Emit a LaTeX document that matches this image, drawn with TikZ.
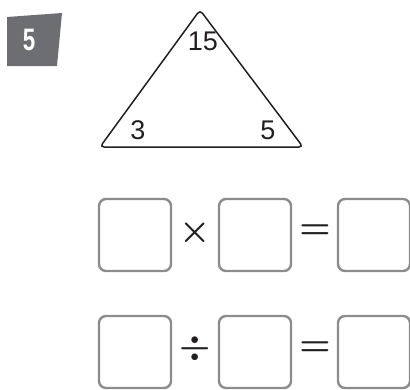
\documentclass[tikz,border=0pt]{standalone}
\usepackage{fontspec}
\setmainfont{Liberation Sans}
\newfontfamily\badgefont[FakeStretch=0.72]{Liberation Sans Bold}
\usepackage{xcolor}
\usetikzlibrary{positioning}
\definecolor{badgeGray}{HTML}{6D6E71}
\definecolor{boxGray}{HTML}{8C8C8C}
\definecolor{inkDark}{HTML}{231F20}
\newcommand{\bigop}[1]{\scalebox{3.5}{\boldmath$#1$}}

\begin{document}
\begin{tikzpicture}[x=1pt, y=-1pt,
  answerbox/.style={draw=boxGray, line width=2.4pt, rounded corners=7pt,
    minimum width=72pt, minimum height=72pt, inner sep=0pt},
  opsign/.style={text=inkDark, inner sep=0pt},
  cornernum/.style={font=\fontsize{27}{27}\selectfont, text=inkDark, inner sep=0pt}]
\useasboundingbox (0,0) rectangle (410,389);
% ---------- badge ----------
\fill[badgeGray] (7,17) -- (62,13) -- (57,66) -- (7,66) -- cycle;
\node[text=white, font=\badgefont\fontsize{31}{31}\selectfont, inner sep=0pt] (num) at (29,40) {5};
% ---------- triangle ----------
\coordinate (apex) at (200,10);
\coordinate (bl) at (100,147);
\coordinate (br) at (303,147);
\draw[line width=1.5pt, rounded corners=4pt, inkDark] (apex) -- (br) -- (bl) -- cycle;
\node[cornernum] (top) at (203,41) {15};
\node[cornernum] (left) at (138,130) {3};
\node[cornernum] (right) at (268,130) {5};
% ---------- multiplication row ----------
\node[answerbox] (m1) at (135,235) {};
\node[answerbox] (m2) at (255,235) {};
\node[answerbox] (m3) at (374,235) {};
\node[opsign] (times) at (195,233) {\bigop{\times}};
\node[opsign] (eqa) at (315,232) {\bigop{=}};
% ---------- division row ----------
\node[answerbox] (d1) at (135,352) {};
\node[answerbox] (d2) at (255,352) {};
\node[answerbox] (d3) at (374,352) {};
\node[opsign] (divide) at (195,349) {\bigop{\div}};
\node[opsign] (eqb) at (315,349) {\bigop{=}};
\end{tikzpicture}
\end{document}
